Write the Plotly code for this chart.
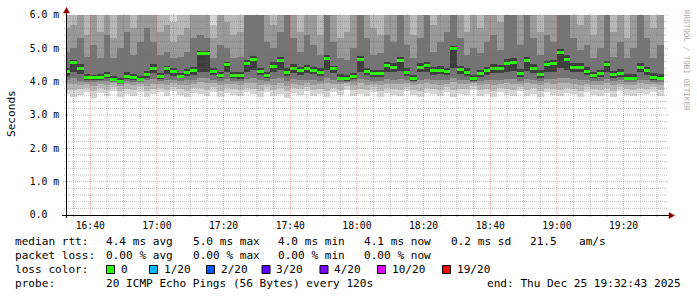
import plotly.graph_objects as go
import pandas as pd

# ---------------- data ----------------
median_ms = [4.30, 4.58, 4.40, 4.12, 4.12, 4.12, 4.20, 4.08, 4.00, 4.17,
             4.13, 4.08, 4.21, 4.41, 4.15, 4.39, 4.30, 4.17, 4.27, 4.34,
             4.84, 4.86, 4.31, 4.18, 4.51, 4.18, 4.18, 4.55, 4.68, 4.31,
             4.19, 4.47, 4.65, 4.29, 4.41, 4.33, 4.40, 4.34, 4.29, 4.71,
             4.39, 4.11, 4.10, 4.16, 4.67, 4.32, 4.24, 4.24, 4.49, 4.44,
             4.64, 4.29, 4.09, 4.43, 4.48, 4.33, 4.35, 4.31, 4.99, 4.38,
             4.29, 4.09, 4.24, 4.33, 4.41, 4.40, 4.55, 4.58, 4.26, 4.63,
             4.40, 4.23, 4.51, 4.55, 4.89, 4.68, 4.44, 4.43, 4.32, 4.19,
             4.25, 4.51, 4.21, 4.26, 4.11, 4.11, 4.44, 4.33, 4.12, 4.11]

# smoke: lower edges (outer -> inner) of the grey bands, ms
smoke_lo1 = [3.62, 3.55, 3.60, 3.70, 3.52, 3.66, 3.58, 3.72, 3.55, 3.64,
             3.58, 3.70, 3.54, 3.62, 3.68, 3.57, 3.73, 3.60, 3.55, 3.66,
             3.62, 3.58, 3.70, 3.54, 3.65, 3.60, 3.56, 3.68, 3.62, 3.55,
             3.70, 3.58, 3.64, 3.52, 3.66, 3.60, 3.72, 3.57, 3.63, 3.55,
             3.68, 3.60, 3.74, 3.56, 3.62, 3.58, 3.70, 3.54, 3.65, 3.60,
             3.57, 3.72, 3.60, 3.55, 3.66, 3.62, 3.58, 3.70, 3.54, 3.64,
             3.60, 3.75, 3.57, 3.63, 3.55, 3.68, 3.60, 3.56, 3.72, 3.58,
             3.64, 3.55, 3.68, 3.60, 3.57, 3.66, 3.62, 3.54, 3.70, 3.60,
             3.58, 3.65, 3.55, 3.72, 3.60, 3.57, 3.66, 3.62, 3.70, 3.58]
smoke_lo2 = [3.76, 3.74, 3.78, 3.82, 3.72, 3.80, 3.75, 3.84, 3.73, 3.79,
             3.75, 3.83, 3.72, 3.78, 3.81, 3.74, 3.85, 3.77, 3.73, 3.80,
             3.82, 3.76, 3.84, 3.73, 3.80, 3.77, 3.74, 3.82, 3.78, 3.73,
             3.83, 3.75, 3.80, 3.72, 3.81, 3.77, 3.85, 3.74, 3.79, 3.73,
             3.82, 3.76, 3.86, 3.74, 3.78, 3.75, 3.83, 3.72, 3.80, 3.77,
             3.74, 3.84, 3.76, 3.73, 3.81, 3.78, 3.75, 3.83, 3.76, 3.79,
             3.77, 3.86, 3.74, 3.79, 3.73, 3.82, 3.77, 3.74, 3.84, 3.75,
             3.80, 3.73, 3.82, 3.77, 3.75, 3.81, 3.78, 3.72, 3.83, 3.77,
             3.75, 3.80, 3.73, 3.84, 3.77, 3.74, 3.81, 3.78, 3.83, 3.75]
smoke_lo3 = [3.92, 3.93, 3.90, 3.94, 3.88, 3.93, 3.90, 3.95, 3.86, 3.92,
             3.90, 3.94, 3.88, 3.93, 3.92, 3.89, 3.96, 3.91, 3.90, 3.93,
             3.98, 3.96, 3.95, 3.90, 3.94, 3.92, 3.89, 3.95, 3.97, 3.90,
             3.94, 3.91, 3.96, 3.88, 3.93, 3.91, 3.96, 3.90, 3.92, 3.95,
             3.93, 3.92, 3.96, 3.90, 3.95, 3.91, 3.94, 3.89, 3.94, 3.93,
             3.93, 3.95, 3.89, 3.92, 3.95, 3.93, 3.91, 3.94, 3.98, 3.93,
             3.92, 3.96, 3.89, 3.93, 3.90, 3.94, 3.95, 3.92, 3.94, 3.95,
             3.94, 3.89, 3.95, 3.93, 3.97, 3.95, 3.93, 3.89, 3.94, 3.90,
             3.91, 3.95, 3.89, 3.94, 3.90, 3.90, 3.95, 3.93, 3.92, 3.90]
smoke_lo4 = [4.04, 4.10, 4.02, 4.00, 3.98, 4.01, 4.03, 3.99, 3.94, 4.02,
             4.00, 3.98, 4.04, 4.08, 4.01, 4.06, 4.04, 4.02, 4.05, 4.06,
             4.12, 4.10, 4.06, 4.03, 4.08, 4.03, 4.01, 4.08, 4.10, 4.04,
             4.02, 4.08, 4.10, 4.03, 4.07, 4.05, 4.06, 4.05, 4.03, 4.10,
             4.06, 3.99, 3.98, 4.02, 4.09, 4.05, 4.03, 4.01, 4.07, 4.06,
             4.08, 4.04, 3.98, 4.06, 4.08, 4.05, 4.05, 4.04, 4.12, 4.06,
             4.04, 3.98, 4.02, 4.05, 4.06, 4.06, 4.08, 4.08, 4.03, 4.08,
             4.06, 4.02, 4.08, 4.08, 4.12, 4.10, 4.07, 4.05, 4.04, 4.01,
             4.03, 4.08, 4.01, 4.04, 3.99, 3.99, 4.06, 4.05, 4.00, 3.99]
smoke_lo5 = [4.18, 4.30, 4.22, 4.04, 4.04, 4.05, 4.10, 4.03, 3.96, 4.08,
             4.06, 4.02, 4.12, 4.25, 4.08, 4.22, 4.18, 4.10, 4.16, 4.20,
             4.28, 4.30, 4.20, 4.10, 4.30, 4.10, 4.09, 4.30, 4.35, 4.20,
             4.10, 4.28, 4.35, 4.18, 4.25, 4.20, 4.25, 4.22, 4.18, 4.35,
             4.25, 4.04, 4.03, 4.08, 4.30, 4.20, 4.14, 4.14, 4.28, 4.28,
             4.32, 4.18, 4.03, 4.28, 4.30, 4.20, 4.22, 4.20, 4.40, 4.24,
             4.18, 4.03, 4.14, 4.20, 4.25, 4.25, 4.30, 4.32, 4.15, 4.32,
             4.25, 4.12, 4.30, 4.30, 4.40, 4.35, 4.28, 4.28, 4.20, 4.10,
             4.14, 4.30, 4.12, 4.15, 4.04, 4.04, 4.28, 4.20, 4.05, 4.04]
# smoke: upper edges (inner -> outer), ms; values above 6.0 are clipped
smoke_hi5 = [4.42, 4.65, 4.52, 4.22, 4.20, 4.22, 4.30, 4.18, 4.10, 4.28,
             4.24, 4.18, 4.32, 4.52, 4.25, 4.48, 4.40, 4.27, 4.38, 4.45,
             4.92, 4.93, 4.42, 4.28, 4.60, 4.28, 4.30, 4.65, 4.78, 4.42,
             4.30, 4.58, 4.75, 4.40, 4.52, 4.45, 4.50, 4.45, 4.40, 4.80,
             4.48, 4.22, 4.20, 4.27, 4.78, 4.42, 4.35, 4.34, 4.60, 4.55,
             4.75, 4.40, 4.20, 4.55, 4.58, 4.45, 4.46, 4.42, 5.08, 4.48,
             4.40, 4.20, 4.35, 4.45, 4.52, 4.50, 4.68, 4.70, 4.38, 4.75,
             4.52, 4.35, 4.62, 4.66, 4.98, 4.80, 4.55, 4.55, 4.44, 4.30,
             4.36, 4.62, 4.32, 4.38, 4.22, 4.22, 4.55, 4.45, 4.25, 4.22]
smoke_hi4 = [4.90, 5.00, 5.30, 4.75, 5.10, 4.70, 5.40, 4.70, 5.00, 5.50,
             4.80, 5.20, 5.60, 5.20, 4.80, 4.90, 4.70, 4.75, 4.90, 5.30,
             5.40, 5.30, 4.70, 5.10, 5.00, 4.70, 4.75, 6.30, 6.30, 6.30,
             5.20, 5.00, 5.50, 6.30, 5.30, 4.90, 5.40, 5.10, 4.80, 6.30,
             5.20, 4.70, 4.65, 5.00, 6.30, 5.30, 4.80, 4.85, 5.40, 5.20,
             6.30, 5.10, 4.70, 5.30, 6.30, 4.90, 5.20, 5.50, 6.30, 5.30,
             4.80, 5.00, 4.85, 5.20, 5.40, 4.95, 6.30, 6.30, 5.10, 6.30,
             5.30, 4.80, 5.40, 5.20, 6.30, 6.30, 5.30, 4.95, 5.10, 4.70,
             5.00, 6.30, 4.75, 5.20, 4.70, 5.00, 6.30, 5.30, 4.70, 5.10]
smoke_hi3 = [5.60, 5.70, 6.40, 5.40, 6.40, 5.50, 6.40, 5.30, 6.40, 6.40,
             5.60, 6.40, 6.40, 6.40, 5.50, 5.70, 5.20, 5.40, 5.60, 6.40,
             6.40, 6.40, 5.30, 6.40, 5.80, 5.40, 5.50, 6.40, 6.40, 6.40,
             6.40, 5.70, 6.40, 6.40, 6.40, 5.50, 6.40, 6.40, 5.40, 6.40,
             6.40, 5.30, 5.50, 6.40, 6.40, 6.40, 5.60, 5.40, 6.40, 6.40,
             6.40, 6.40, 5.40, 6.40, 6.40, 5.70, 6.40, 6.40, 6.40, 6.40,
             5.50, 6.40, 5.60, 6.40, 6.40, 5.80, 6.40, 6.40, 6.40, 6.40,
             6.40, 5.50, 6.40, 6.40, 6.40, 6.40, 6.40, 5.70, 6.40, 5.40,
             6.40, 6.40, 5.50, 6.40, 5.30, 6.40, 6.40, 6.40, 5.60, 6.40]
smoke_hi2 = [6.50, 6.50, 6.50, 6.50, 6.50, 6.50, 6.50, 6.50, 6.50, 6.50,
             6.50, 6.50, 6.50, 6.50, 6.50, 6.50, 5.80, 6.50, 6.50, 6.50,
             6.50, 6.50, 5.70, 6.50, 6.50, 6.50, 6.50, 6.50, 6.50, 6.50,
             6.50, 6.50, 6.50, 6.50, 6.50, 6.50, 6.50, 6.50, 6.50, 6.50,
             6.50, 6.50, 6.50, 6.50, 6.50, 6.50, 6.50, 6.50, 6.50, 6.50,
             6.50, 6.50, 6.50, 6.50, 6.50, 6.50, 6.50, 6.50, 6.50, 6.50,
             6.50, 6.50, 6.50, 6.50, 6.50, 6.50, 6.50, 6.50, 6.50, 6.50,
             6.50, 6.50, 6.50, 6.50, 6.50, 6.50, 6.50, 6.50, 6.50, 6.50,
             6.50, 6.50, 6.50, 6.50, 6.50, 6.50, 6.50, 6.50, 6.50, 6.50]
smoke_hi1 = [6.60] * 90  # outermost pings are above the 6.0 ms clip everywhere

y_tick_vals = [0, 1, 2, 3, 4, 5, 6]
y_tick_text = ["0.0\u00a0\u00a0", "1.0 m", "2.0 m", "3.0 m", "4.0 m", "5.0 m", "6.0 m"]
x_tick_text = ["16:40", "17:00", "17:20", "17:40", "18:00", "18:20", "18:40", "19:00", "19:20"]

loss_labels = ["0", "1/20", "2/20", "3/20", "4/20", "10/20", "19/20"]
loss_colors = ["#26ff00", "#00b8ff", "#0059ff", "#5e00ff", "#7e00ff", "#dd00ff", "#ff0000"]

stats_rtt = ["4.4 ms avg", "5.0 ms max", "4.0 ms min", "4.1 ms now", "0.2 ms sd", "21.5", "am/s"]
stats_loss = ["0.00 % avg", "0.00 % max", "0.00 % min", "0.00 % now"]

# ---------------- geometry ----------------
FIG_W, FIG_H = 697, 297
ML, MR, MT, MB = 66, 31, 15, 82
PW = FIG_W - ML - MR
PH = FIG_H - MT - MB
FONT = "DejaVu Sans Mono"


def px_x(px):
    return (px - ML) / PW


def px_y(py):
    return (FIG_H - MB - py) / PH


t_end = pd.Timestamp("2025-12-25 19:32:43")
t_start = t_end - pd.Timedelta(hours=3)
first_step = pd.Timestamp("2025-12-25 16:32:00")
STEP_S = 120
n = len(median_ms)
x_centers = [first_step + pd.Timedelta(seconds=STEP_S * (i + 0.5)) for i in range(n)]
bar_w = STEP_S * 1000

fig = go.Figure()

bands = [
    (smoke_lo1, smoke_hi1, "#d6d6d6"),
    (smoke_lo2, smoke_hi2, "#b8b8b8"),
    (smoke_lo3, smoke_hi3, "#9a9a9a"),
    (smoke_lo4, smoke_hi4, "#757575"),
    (smoke_lo5, smoke_hi5, "#3e3e3e"),
]
for lo, hi, col in bands:
    fig.add_trace(go.Bar(
        x=x_centers, base=lo, y=[h - l for l, h in zip(lo, hi)], width=bar_w,
        marker=dict(color=col, line=dict(width=0)), hoverinfo="skip", showlegend=False))

# median bars (3 px thick)
med_half = 1.5 * 6.0 / PH
fig.add_trace(go.Bar(
    x=x_centers, base=[m - med_half for m in median_ms], y=[2 * med_half] * n, width=bar_w,
    marker=dict(color=loss_colors[0], line=dict(width=0)), hoverinfo="skip", showlegend=False))

# ---------------- grid, axes, arrows ----------------
shapes = []
MIN_GRID = "rgba(110,110,110,0.45)"
MAJ_GRID = "rgba(255,60,60,0.5)"
for k in range(1, 31):
    v = round(k * 0.2, 1)
    major = (k % 5 == 0)
    shapes.append(dict(type="line", xref="paper", yref="y", x0=px_x(63 if major else 64), x1=px_x(668),
                       y0=v, y1=v, layer="above",
                       line=dict(color=MAJ_GRID if major else MIN_GRID, width=1, dash="1px,1px")))
tg = pd.Timestamp("2025-12-25 16:35:00")
while tg < t_end:
    major = (tg.minute % 20 == 0)
    shapes.append(dict(type="line", xref="x", yref="paper", x0=tg, x1=tg,
                       y0=px_y(218 if major else 217), y1=px_y(14), layer="above",
                       line=dict(color=MAJ_GRID if major else MIN_GRID, width=1, dash="1px,1px")))
    tg += pd.Timedelta(minutes=5)

# axis lines
shapes.append(dict(type="line", xref="paper", yref="paper", x0=px_x(66.5), x1=px_x(66.5),
                   y0=px_y(218), y1=px_y(11), line=dict(color="black", width=1), layer="above"))
shapes.append(dict(type="line", xref="paper", yref="paper", x0=px_x(62), x1=px_x(669),
                   y0=px_y(215.5), y1=px_y(215.5), line=dict(color="black", width=1), layer="above"))
# arrows
ARROW = "#8b0000"
shapes.append(dict(type="path", xref="paper", yref="paper", layer="above",
                   path=f"M {px_x(66.5)} {px_y(7.5)} L {px_x(63.5)} {px_y(13)} L {px_x(69.5)} {px_y(13)} Z",
                   fillcolor=ARROW, line=dict(color=ARROW, width=0.5)))
shapes.append(dict(type="path", xref="paper", yref="paper", layer="above",
                   path=f"M {px_x(674.5)} {px_y(215.5)} L {px_x(669)} {px_y(212.5)} L {px_x(669)} {px_y(218.5)} Z",
                   fillcolor=ARROW, line=dict(color=ARROW, width=0.5)))

# ---------------- texts ----------------
annotations = []


def txt(s, px, py, size=11.1, anchor="left", color="black", angle=0):
    annotations.append(dict(text=s, x=px_x(px), y=px_y(py), xref="paper", yref="paper",
                            xanchor=anchor, yanchor="middle", showarrow=False, textangle=angle,
                            borderpad=0, borderwidth=0,
                            font=dict(family=FONT, size=size, color=color)))


txt("Seconds", 11, 114, angle=-90, anchor="center")
txt("RRDTOOL / TOBI OETIKER", 686, 60, size=7.6, anchor="center", color="#aaaaaa", angle=90)

row_y = [241.5, 255.5, 269.5, 283.5]
txt("median rtt:", 15, row_y[0])
rtt_x = [105.5, 192.5, 278, 364, 450.5, 529.5, 578.5]
for s, xx in zip(stats_rtt, rtt_x):
    txt(s, xx, row_y[0])
txt("packet loss:", 15, row_y[1])
for s, xx in zip(stats_loss, rtt_x[:4]):
    txt(s, xx, row_y[1])
txt("loss color:", 15, row_y[2])
box_x = [106.5, 149.5, 206.5, 262, 320, 377.5, 442.5]
for lab, col, bx in zip(loss_labels, loss_colors, box_x):
    shapes.append(dict(type="rect", xref="paper", yref="paper", x0=px_x(bx), x1=px_x(bx + 8),
                       y0=px_y(row_y[2] + 4), y1=px_y(row_y[2] - 4),
                       fillcolor=col, line=dict(color="black", width=1), layer="above"))
    txt(lab, bx + 14, row_y[2])
txt("probe:", 15, row_y[3])
txt("20 ICMP Echo Pings (56 Bytes) every 120s", 106, row_y[3])
txt("end: Thu Dec 25 19:32:43 2025", 681, row_y[3], anchor="right")

x_tick_vals = [pd.Timestamp("2025-12-25 " + s) for s in x_tick_text]

fig.update_layout(
    template="none",
    width=FIG_W, height=FIG_H,
    margin=dict(l=ML, r=MR, t=MT, b=MB, pad=0),
    paper_bgcolor="white", plot_bgcolor="white",
    barmode="overlay", bargap=0, showlegend=False,
    font=dict(family=FONT, size=11.1, color="black"),
    xaxis=dict(type="date", range=[t_start, t_end], tickvals=x_tick_vals, ticktext=x_tick_text,
               showgrid=False, zeroline=False, showline=False, ticks="",
               tickfont=dict(family=FONT, size=9.7, color="black"), ticklabelstandoff=3),
    yaxis=dict(range=[0, 6], tickvals=y_tick_vals, ticktext=y_tick_text,
               showgrid=False, zeroline=False, showline=False, ticks="",
               tickfont=dict(family=FONT, size=9.7, color="black"), ticklabelstandoff=6),
    shapes=shapes, annotations=annotations,
)

fig.write_html("out.html")
